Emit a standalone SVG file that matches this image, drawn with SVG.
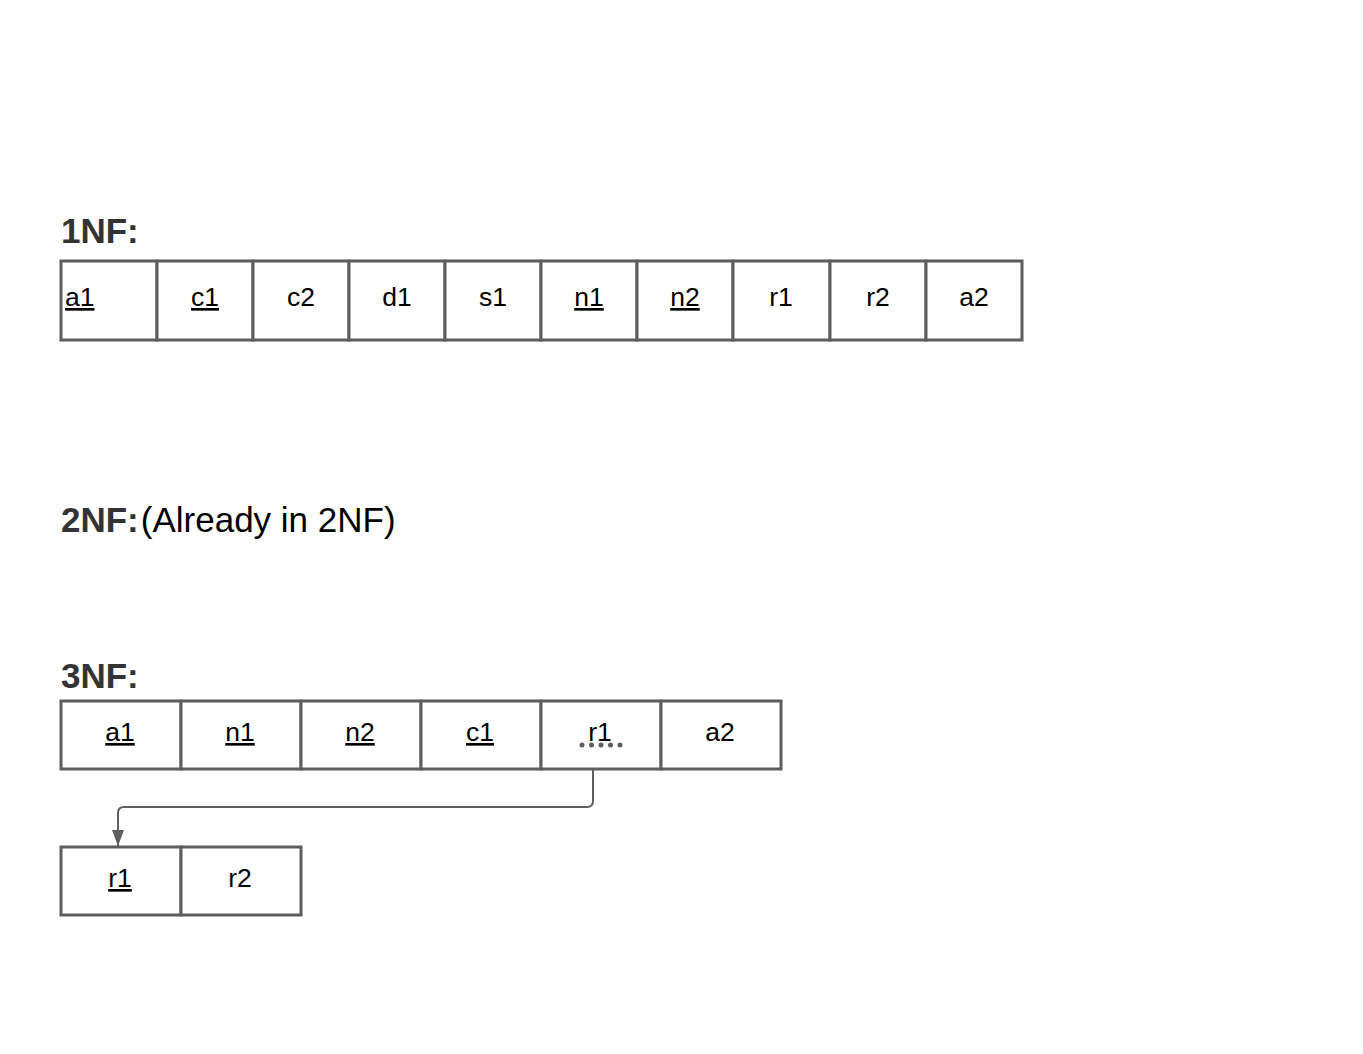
<svg xmlns="http://www.w3.org/2000/svg" width="1363" height="1054" viewBox="0 0 1363 1054">
<style>
.cell{fill:#fff;stroke:#5e5e5e;stroke-width:3}
.t{font-family:"Liberation Sans",Arial,sans-serif;font-size:26.5px;fill:#000;text-anchor:middle}
.u{text-decoration:underline}
.h{font-family:"Liberation Sans",Arial,sans-serif;font-size:35px;font-weight:bold;fill:#333}
.n{font-family:"Liberation Sans",Arial,sans-serif;font-size:35px;fill:#000}
</style>
<defs>
<marker id="ah" markerWidth="16" markerHeight="12" refX="16" refY="6" orient="auto" markerUnits="userSpaceOnUse" viewBox="0 0 16 12">
<path d="M0,0 L16,6 L0,12 Z" fill="#5e5e5e"/>
</marker>
</defs>
<rect width="1363" height="1054" fill="#fff"/>
<g id="headings">
<text class="h" x="61" y="243">1NF:</text>
<text x="61" y="532"><tspan class="h">2NF:</tspan><tspan class="n" dx="2">(Already in 2NF)</tspan></text>
<text class="h" x="61" y="688">3NF:</text>
</g>
<g id="table1NF">
<rect class="cell" x="61" y="261" width="96" height="79"/><text class="t u" x="65" y="306" style="text-anchor:start">a1</text>
<rect class="cell" x="157" y="261" width="96" height="79"/><text class="t u" x="205" y="306">c1</text>
<rect class="cell" x="253" y="261" width="96" height="79"/><text class="t" x="301" y="306">c2</text>
<rect class="cell" x="349" y="261" width="96" height="79"/><text class="t" x="397" y="306">d1</text>
<rect class="cell" x="445" y="261" width="96" height="79"/><text class="t" x="493" y="306">s1</text>
<rect class="cell" x="541" y="261" width="96" height="79"/><text class="t u" x="589" y="306">n1</text>
<rect class="cell" x="637" y="261" width="96" height="79"/><text class="t u" x="685" y="306">n2</text>
<rect class="cell" x="733" y="261" width="97" height="79"/><text class="t" x="781" y="306">r1</text>
<rect class="cell" x="830" y="261" width="96" height="79"/><text class="t" x="878" y="306">r2</text>
<rect class="cell" x="926" y="261" width="96" height="79"/><text class="t" x="974" y="306">a2</text>
</g>
<g id="table3NF">
<rect class="cell" x="61" y="701" width="120" height="68"/><text class="t u" x="120" y="741">a1</text>
<rect class="cell" x="181" y="701" width="120" height="68"/><text class="t u" x="240" y="741">n1</text>
<rect class="cell" x="301" y="701" width="120" height="68"/><text class="t u" x="360" y="741">n2</text>
<rect class="cell" x="421" y="701" width="120" height="68"/><text class="t u" x="480" y="741">c1</text>
<rect class="cell" x="541" y="701" width="120" height="68"/><text class="t" x="600" y="741">r1</text>
<line x1="582" y1="745" x2="620.5" y2="745" stroke="#5e5e5e" stroke-width="5" stroke-linecap="round" stroke-dasharray="0 9.5"/>
<rect class="cell" x="661" y="701" width="120" height="68"/><text class="t" x="720" y="741">a2</text>
</g>
<g id="tableR">
<rect class="cell" x="61" y="847" width="120" height="68"/><text class="t u" x="120" y="887">r1</text>
<rect class="cell" x="181" y="847" width="120" height="68"/><text class="t" x="240" y="887">r2</text>
</g>
<g id="connectors">
<path d="M593,769 V801 Q593,807 587,807 H124 Q118,807 118,813 V846" fill="none" stroke="#5e5e5e" stroke-width="2" marker-end="url(#ah)"/>
</g>
</svg>
